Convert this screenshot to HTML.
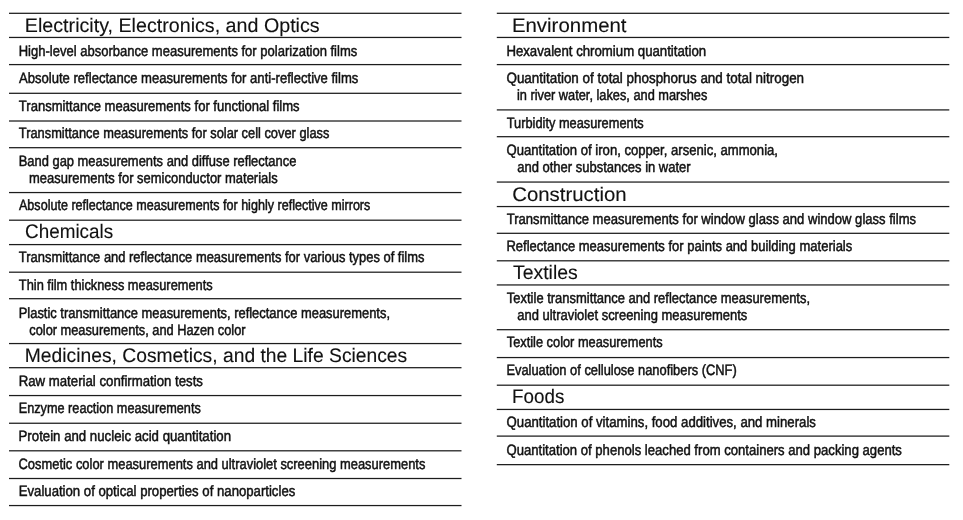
<!DOCTYPE html>
<html><head><meta charset="utf-8"><title>Applications</title>
<style>
html,body{margin:0;padding:0;background:#fff;}
body{width:963px;height:520px;position:relative;overflow:hidden;font-family:"Liberation Sans",sans-serif;color:#111111;}
svg{position:absolute;left:0;top:0;}
#tx{position:absolute;left:0;top:0;width:963px;height:520px;will-change:transform;}
.t{position:absolute;left:0;white-space:pre;transform-origin:0 0;line-height:1;text-rendering:geometricPrecision;}
.h{font-size:19.0px;-webkit-text-stroke:0.12px #111111;}
.i{font-size:15.0px;-webkit-text-stroke:0.5px #111111;}
</style></head><body>
<svg width="963" height="520" viewBox="0 0 963 520"><g fill="#1c1c1c">
<rect x="9.0" y="12.68" width="452.5" height="1.25"/>
<rect x="9.0" y="36.83" width="452.5" height="1.25"/>
<rect x="9.0" y="63.97" width="452.5" height="1.25"/>
<rect x="9.0" y="92.67" width="452.5" height="1.25"/>
<rect x="9.0" y="120.38" width="452.5" height="1.25"/>
<rect x="9.0" y="147.07" width="452.5" height="1.25"/>
<rect x="9.0" y="191.93" width="452.5" height="1.25"/>
<rect x="9.0" y="219.57" width="452.5" height="1.25"/>
<rect x="9.0" y="243.97" width="452.5" height="1.25"/>
<rect x="9.0" y="271.57" width="452.5" height="1.25"/>
<rect x="9.0" y="298.07" width="452.5" height="1.25"/>
<rect x="9.0" y="342.93" width="452.5" height="1.25"/>
<rect x="9.0" y="367.07" width="452.5" height="1.25"/>
<rect x="9.0" y="394.93" width="452.5" height="1.25"/>
<rect x="9.0" y="422.62" width="452.5" height="1.25"/>
<rect x="9.0" y="450.18" width="452.5" height="1.25"/>
<rect x="9.0" y="477.88" width="452.5" height="1.25"/>
<rect x="9.0" y="504.93" width="452.5" height="1.25"/>
<rect x="496.8" y="12.68" width="452.49999999999994" height="1.25"/>
<rect x="496.8" y="36.83" width="452.49999999999994" height="1.25"/>
<rect x="496.8" y="63.97" width="452.49999999999994" height="1.25"/>
<rect x="496.8" y="109.28" width="452.49999999999994" height="1.25"/>
<rect x="496.8" y="136.07" width="452.49999999999994" height="1.25"/>
<rect x="496.8" y="181.43" width="452.49999999999994" height="1.25"/>
<rect x="496.8" y="205.93" width="452.49999999999994" height="1.25"/>
<rect x="496.8" y="232.68" width="452.49999999999994" height="1.25"/>
<rect x="496.8" y="260.18" width="452.49999999999994" height="1.25"/>
<rect x="496.8" y="284.32" width="452.49999999999994" height="1.25"/>
<rect x="496.8" y="329.07" width="452.49999999999994" height="1.25"/>
<rect x="496.8" y="356.93" width="452.49999999999994" height="1.25"/>
<rect x="496.8" y="384.57" width="452.49999999999994" height="1.25"/>
<rect x="496.8" y="408.82" width="452.49999999999994" height="1.25"/>
<rect x="496.8" y="435.48" width="452.49999999999994" height="1.25"/>
<rect x="496.8" y="464.02" width="452.49999999999994" height="1.25"/>
</g></svg>
<div id="tx">
<div class="t h" style="top:17.02px;transform-origin:0 14.98px;transform:translateX(24.84px) scale(1.0354,1.035)">Electricity, Electronics, and Optics</div>
<div class="t i" style="top:44.05px;transform-origin:0 11.95px;transform:translateX(18.71px) scale(0.8676,1.0)">High-level absorbance measurements for polarization films</div>
<div class="t i" style="top:71.05px;transform-origin:0 11.95px;transform:translateX(18.98px) scale(0.8717,1.0)">Absolute reflectance measurements for anti-reflective films</div>
<div class="t i" style="top:99.05px;transform-origin:0 11.95px;transform:translateX(18.82px) scale(0.8697,1.0)">Transmittance measurements for functional films</div>
<div class="t i" style="top:126.05px;transform-origin:0 11.95px;transform:translateX(18.81px) scale(0.8557,1.0)">Transmittance measurements for solar cell cover glass</div>
<div class="t i" style="top:154.05px;transform-origin:0 11.95px;transform:translateX(18.72px) scale(0.8611,1.0)">Band gap measurements and diffuse reflectance</div>
<div class="t i" style="top:171.05px;transform-origin:0 11.95px;transform:translateX(28.98px) scale(0.8646,1.0)">measurements for semiconductor materials</div>
<div class="t i" style="top:198.05px;transform-origin:0 11.95px;transform:translateX(18.98px) scale(0.8379,1.0)">Absolute reflectance measurements for highly reflective mirrors</div>
<div class="t h" style="top:223.02px;transform-origin:0 14.98px;transform:translateX(25.06px) scale(0.9930,1.035)">Chemicals</div>
<div class="t i" style="top:250.05px;transform-origin:0 11.95px;transform:translateX(18.86px) scale(0.8620,1.0)">Transmittance and reflectance measurements for various types of films</div>
<div class="t i" style="top:278.05px;transform-origin:0 11.95px;transform:translateX(18.81px) scale(0.8551,1.0)">Thin film thickness measurements</div>
<div class="t i" style="top:306.05px;transform-origin:0 11.95px;transform:translateX(18.72px) scale(0.8614,1.0)">Plastic transmittance measurements, reflectance measurements,</div>
<div class="t i" style="top:323.05px;transform-origin:0 11.95px;transform:translateX(29.29px) scale(0.8531,1.0)">color measurements, and Hazen color</div>
<div class="t h" style="top:347.02px;transform-origin:0 14.98px;transform:translateX(24.82px) scale(1.0143,1.035)">Medicines, Cosmetics, and the Life Sciences</div>
<div class="t i" style="top:374.05px;transform-origin:0 11.95px;transform:translateX(18.67px) scale(0.8808,1.0)">Raw material confirmation tests</div>
<div class="t i" style="top:401.05px;transform-origin:0 11.95px;transform:translateX(18.72px) scale(0.8465,1.0)">Enzyme reaction measurements</div>
<div class="t i" style="top:429.05px;transform-origin:0 11.95px;transform:translateX(18.55px) scale(0.8817,1.0)">Protein and nucleic acid quantitation</div>
<div class="t i" style="top:457.05px;transform-origin:0 11.95px;transform:translateX(18.51px) scale(0.8607,1.0)">Cosmetic color measurements and ultraviolet screening measurements</div>
<div class="t i" style="top:484.05px;transform-origin:0 11.95px;transform:translateX(18.70px) scale(0.8775,1.0)">Evaluation of optical properties of nanoparticles</div>
<div class="t h" style="top:17.02px;transform-origin:0 14.98px;transform:translateX(511.88px) scale(1.0750,1.035)">Environment</div>
<div class="t i" style="top:44.05px;transform-origin:0 11.95px;transform:translateX(506.38px) scale(0.8807,1.0)">Hexavalent chromium quantitation</div>
<div class="t i" style="top:71.05px;transform-origin:0 11.95px;transform:translateX(506.45px) scale(0.8945,1.0)">Quantitation of total phosphorus and total nitrogen</div>
<div class="t i" style="top:88.05px;transform-origin:0 11.95px;transform:translateX(516.93px) scale(0.8524,1.0)">in river water, lakes, and marshes</div>
<div class="t i" style="top:116.05px;transform-origin:0 11.95px;transform:translateX(506.77px) scale(0.8534,1.0)">Turbidity measurements</div>
<div class="t i" style="top:143.05px;transform-origin:0 11.95px;transform:translateX(506.57px) scale(0.8726,1.0)">Quantitation of iron, copper, arsenic, ammonia,</div>
<div class="t i" style="top:160.05px;transform-origin:0 11.95px;transform:translateX(517.22px) scale(0.8667,1.0)">and other substances in water</div>
<div class="t h" style="top:186.02px;transform-origin:0 14.98px;transform:translateX(512.19px) scale(1.0734,1.035)">Construction</div>
<div class="t i" style="top:212.05px;transform-origin:0 11.95px;transform:translateX(506.77px) scale(0.8699,1.0)">Transmittance measurements for window glass and window glass films</div>
<div class="t i" style="top:239.05px;transform-origin:0 11.95px;transform:translateX(506.38px) scale(0.8679,1.0)">Reflectance measurements for paints and building materials</div>
<div class="t h" style="top:264.02px;transform-origin:0 14.98px;transform:translateX(512.90px) scale(1.0240,1.035)">Textiles</div>
<div class="t i" style="top:291.05px;transform-origin:0 11.95px;transform:translateX(506.86px) scale(0.8637,1.0)">Textile transmittance and reflectance measurements,</div>
<div class="t i" style="top:308.05px;transform-origin:0 11.95px;transform:translateX(517.23px) scale(0.8652,1.0)">and ultraviolet screening measurements</div>
<div class="t i" style="top:335.05px;transform-origin:0 11.95px;transform:translateX(506.77px) scale(0.8535,1.0)">Textile color measurements</div>
<div class="t i" style="top:363.05px;transform-origin:0 11.95px;transform:translateX(506.40px) scale(0.8580,1.0)">Evaluation of cellulose nanofibers (CNF)</div>
<div class="t h" style="top:388.02px;transform-origin:0 14.98px;transform:translateX(512.11px) scale(0.9898,1.035)">Foods</div>
<div class="t i" style="top:415.05px;transform-origin:0 11.95px;transform:translateX(506.55px) scale(0.8793,1.0)">Quantitation of vitamins, food additives, and minerals</div>
<div class="t i" style="top:443.05px;transform-origin:0 11.95px;transform:translateX(506.50px) scale(0.8732,1.0)">Quantitation of phenols leached from containers and packing agents</div>
</div>
</body></html>
